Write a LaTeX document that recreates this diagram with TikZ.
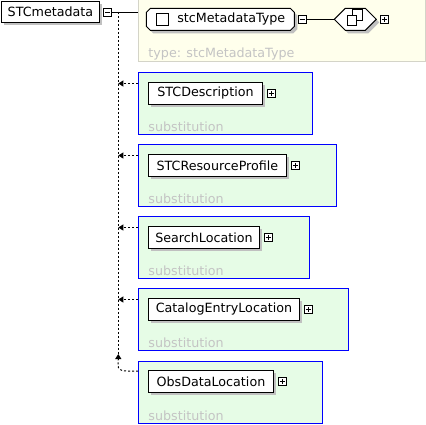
\documentclass[tikz,border=0pt]{standalone}
\usepackage{fontspec}
\setmainfont{DejaVu Sans}
\usetikzlibrary{positioning,shapes.misc,shapes.symbols,shadows,arrows.meta}

\definecolor{subfill}{RGB}{230,252,230}
\definecolor{typefill}{RGB}{255,255,236}
\definecolor{typeline}{RGB}{212,212,200}
\definecolor{hintgray}{RGB}{196,196,196}
\definecolor{shadegray}{RGB}{192,192,192}

\tikzset{
  shade3/.style={drop shadow={shadow xshift=3pt, shadow yshift=-3pt, fill=shadegray, opacity=1}},
  elem/.style={draw, fill=white, anchor=north west, minimum height=22pt, inner sep=0pt,
    font=\fontsize{12.7}{14}\selectfont, shade3},
  tname/.style={draw, fill=white, chamfered rectangle, chamfered rectangle xsep=2pt,
    chamfered rectangle ysep=2pt, anchor=north west, minimum width=148pt, minimum height=22pt,
    inner sep=0pt, font=\fontsize{12.7}{14}\selectfont, shade3},
  compositor/.style={draw, fill=white, signal, signal to=west and east, signal pointer angle=90,
    minimum width=42pt, minimum height=22pt, inner sep=0pt, shade3},
  subbox/.style={draw=blue, fill=subfill, anchor=north west, minimum height=62pt, inner sep=0pt},
  typebox/.style={draw=typeline, fill=typefill, anchor=north west, inner sep=0pt},
  hint/.style={text=hintgray, anchor=base west, inner sep=0pt, font=\fontsize{12.7}{14}\selectfont},
  togglebox/.style={draw, fill=white, minimum size=8pt, inner sep=0pt},
  toggleminus/.style={togglebox, path picture={
    \draw ([xshift=-2.5pt]path picture bounding box.center) -- ([xshift=2.5pt]path picture bounding box.center);}},
  toggleplus/.style={togglebox, path picture={
    \draw ([xshift=-2.5pt]path picture bounding box.center) -- ([xshift=2.5pt]path picture bounding box.center);
    \draw ([yshift=-2.5pt]path picture bounding box.center) -- ([yshift=2.5pt]path picture bounding box.center);}},
  spinestyle/.style={line width=1pt, dash pattern=on 2pt off 2pt},
  subarrow/.style={spinestyle, -{Triangle[length=5pt,width=6pt]}}
}

\begin{document}
\begin{tikzpicture}[x=1pt,y=-1pt,line width=0.9pt]

\useasboundingbox (0,0) rectangle (426,424);

\node[elem, minimum width=98pt, minimum height=21pt] (root) at (1,1) {STCmetadata};
\node[toggleminus, right=3.5pt of root] (roottog) {};
\coordinate[right=6pt of roottog] (spine);

\node[typebox, minimum width=287pt, minimum height=62pt] (typebox) at (138,-1) {};
\draw (roottog.east) -- (roottog.east -| typebox.west);
\node[tname] (typename) at (148,10) {\hspace*{22pt}stcMetadataType};
\node[draw, fill=white, minimum size=12pt, inner sep=0pt, anchor=west] (typecheck) at ([xshift=10pt]typename.west) {};
\node[toggleminus, right=3pt of typename] (typetog) {};
\node[compositor, right=27pt of typetog] (allgroup) {};
\draw (typetog) -- (allgroup);
\draw[fill=white] ([shift={(-3,-10)}]allgroup.center) rectangle ++(10,11);
\draw[fill=white] ([shift={(-8,-4)}]allgroup.center) rectangle ++(9,10);
\node[toggleplus, right=3pt of allgroup] (alltog) {};
\node[hint] (typehint) at ([shift={(10,-4)}]typebox.south west) {type: stcMetadataType};

\node[subbox, minimum width=174pt] (sub1) at (138,72) {};
\node[elem, minimum width=114pt] (desc) at (148,82) {STCDescription};
\node[toggleplus, right=4pt of desc] (desctog) {};
\node[hint] (hint1) at ([shift={(10,-3.5)}]sub1.south west) {substitution};

\node[subbox, minimum width=198pt] (sub2) at (138,144) {};
\node[elem, minimum width=138pt] (resprof) at (148,154) {STCResourceProfile};
\node[toggleplus, right=4pt of resprof] (resproftog) {};
\node[hint] (hint2) at ([shift={(10,-3.5)}]sub2.south west) {substitution};

\node[subbox, minimum width=171pt] (sub3) at (138,216) {};
\node[elem, minimum width=111pt] (search) at (148,226) {SearchLocation};
\node[toggleplus, right=4pt of search] (searchtog) {};
\node[hint] (hint3) at ([shift={(10,-3.5)}]sub3.south west) {substitution};

\node[subbox, minimum width=210pt] (sub4) at (138,288) {};
\node[elem, minimum width=151pt] (catalog) at (148,298) {CatalogEntryLocation};
\node[toggleplus, right=4pt of catalog] (catalogtog) {};
\node[hint] (hint4) at ([shift={(10,-3.5)}]sub4.south west) {substitution};

\node[subbox, minimum width=184pt] (sub5) at (138,361) {};
\node[elem, minimum width=125pt] (obsdata) at (148,370) {ObsDataLocation};
\node[toggleplus, right=4pt of obsdata] (obsdatatog) {};
\node[hint] (hint5) at ([shift={(10,-3.5)}]sub5.south west) {substitution};

\coordinate (h1) at ([yshift=-11.5pt]sub1.north west);
\coordinate (h2) at ([yshift=-11.5pt]sub2.north west);
\coordinate (h3) at ([yshift=-11.5pt]sub3.north west);
\coordinate (h4) at ([yshift=-11.5pt]sub4.north west);
\coordinate (h5) at ([yshift=-10pt]sub5.north west);
\coordinate (bend) at (h5 -| spine);
\coordinate (spineend) at ([yshift=17pt]bend);

\draw[spinestyle] (spine) -- (spineend);
\draw[subarrow] (h1) -- (h1 -| spine);
\draw[subarrow] (h2) -- (h2 -| spine);
\draw[subarrow] (h3) -- (h3 -| spine);
\draw[subarrow] (h4) -- (h4 -| spine);
\draw[subarrow] (h5) -- ([xshift=-10pt]h5)
  .. controls ([xshift=-3pt]bend) and ([yshift=5pt]bend) .. ([yshift=12pt]bend) -- (spineend);

\end{tikzpicture}
\end{document}
